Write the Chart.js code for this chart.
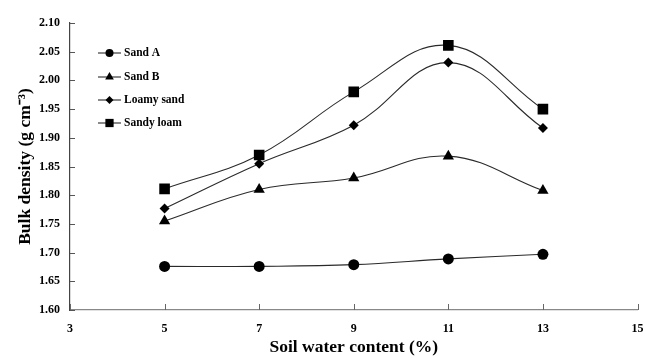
<!DOCTYPE html>
<html>
<head>
<meta charset="utf-8">
<script src="https://cdn.jsdelivr.net/npm/chart.js@4.4.1/dist/chart.umd.min.js"></script>
<style>
html,body{margin:0;padding:0;background:#fff;}
#wrap{width:645px;height:358px;position:relative;}
</style>
</head>
<body>
<div id="wrap"><canvas id="c" width="645" height="358"></canvas></div>
<script>
const waterContent = [5, 7, 9, 11, 13];
const sandA      = [1.676, 1.676, 1.679, 1.689, 1.697];
const sandB      = [1.755, 1.810, 1.830, 1.868, 1.808];
const loamySand  = [1.777, 1.855, 1.922, 2.031, 1.917];
const sandyLoam  = [1.811, 1.870, 1.980, 2.061, 1.950];
const seriesNames = ['Sand A', 'Sand B', 'Loamy sand', 'Sandy loam'];
const xTicks = [3, 5, 7, 9, 11, 13, 15];
const yTicks = [1.60, 1.65, 1.70, 1.75, 1.80, 1.85, 1.90, 1.95, 2.00, 2.05, 2.10];

const FONT = "'Liberation Serif', 'Times New Roman', serif";
const pts = arr => waterContent.map((x, i) => ({x: x, y: arr[i]}));

const styles = [
  {pointStyle: 'circle', radius: 5.5, legendR: 4},
  {pointStyle: 'triangle', radius: 6.5, legendR: 5},
  {pointStyle: 'rectRot', radius: 5, legendR: 4},
  {pointStyle: 'rect', radius: 7.5, legendR: 5.5}
];
const allData = [sandA, sandB, loamySand, sandyLoam];

const datasets = allData.map((arr, i) => ({
  label: seriesNames[i],
  data: pts(arr),
  borderColor: '#2a2a2a',
  backgroundColor: '#000',
  borderWidth: 1.1,
  pointStyle: styles[i].pointStyle,
  pointRadius: styles[i].radius,
  pointHoverRadius: styles[i].radius,
  pointBackgroundColor: '#000',
  pointBorderColor: '#000',
  pointBorderWidth: 0,
  tension: 0.4,
  fill: false
}));

function drawMarker(ctx, style, x, y, r) {
  ctx.beginPath();
  if (style === 'circle') {
    ctx.arc(x, y, r, 0, Math.PI * 2);
  } else if (style === 'triangle') {
    ctx.moveTo(x, y - r);
    ctx.lineTo(x + r * 0.866, y + r * 0.5);
    ctx.lineTo(x - r * 0.866, y + r * 0.5);
    ctx.closePath();
  } else if (style === 'rectRot') {
    ctx.moveTo(x, y - r);
    ctx.lineTo(x + r, y);
    ctx.lineTo(x, y + r);
    ctx.lineTo(x - r, y);
    ctx.closePath();
  } else {
    ctx.rect(x - r * 0.75, y - r * 0.75, r * 1.5, r * 1.5);
  }
  ctx.fill();
}

const insideLegend = {
  id: 'insideLegend',
  afterDraw(chart) {
    const ctx = chart.ctx;
    ctx.save();
    const rows = [53, 77, 100, 123];
    chart.data.datasets.forEach((ds, i) => {
      const y = rows[i];
      ctx.strokeStyle = '#2a2a2a';
      ctx.lineWidth = 1.1;
      ctx.beginPath();
      ctx.moveTo(98, y);
      ctx.lineTo(121, y);
      ctx.stroke();
      ctx.fillStyle = '#000';
      drawMarker(ctx, styles[i].pointStyle, 109.5, y, styles[i].legendR);
      ctx.font = "bold 11.5px " + FONT;
      ctx.textBaseline = 'middle';
      ctx.textAlign = 'left';
      ctx.fillText(ds.label, 124, y + 0.5);
    });
    ctx.restore();
  }
};

// tick marks drawn inward from the axis lines
const innerTicks = {
  id: 'innerTicks',
  afterDraw(chart) {
    const ctx = chart.ctx;
    const xs = chart.scales.x, ys = chart.scales.y;
    ctx.save();
    ctx.lineWidth = 1;
    ctx.strokeStyle = '#555';
    yTicks.forEach(v => {
      const py = Math.round(ys.getPixelForValue(v)) + 0.5;
      ctx.beginPath();
      ctx.moveTo(xs.left, py);
      ctx.lineTo(xs.left + 5, py);
      ctx.stroke();
    });
    ctx.strokeStyle = '#666';
    xTicks.forEach(v => {
      const px = Math.round(xs.getPixelForValue(v)) + 0.5;
      ctx.beginPath();
      ctx.moveTo(px, ys.bottom);
      ctx.lineTo(px, ys.bottom - 6);
      ctx.stroke();
    });
    ctx.restore();
  }
};

new Chart(document.getElementById('c'), {
  type: 'line',
  data: { datasets: datasets },
  plugins: [insideLegend, innerTicks],
  options: {
    responsive: false,
    animation: false,
    devicePixelRatio: 1,
    layout: { padding: { left: 15, right: 6, top: 23, bottom: 0 } },
    plugins: {
      legend: { display: false },
      tooltip: { enabled: false }
    },
    scales: {
      x: {
        type: 'linear',
        min: 3, max: 15,
        afterBuildTicks: s => { s.ticks = xTicks.map(v => ({value: v})); },
        afterFit: s => { s.height = 48; s.paddingLeft = 0; s.paddingRight = 0; },
        grid: { drawOnChartArea: false, drawTicks: false },
        border: { color: '#888', width: 1.3 },
        ticks: { color: '#000', font: { family: FONT, size: 12, weight: 'bold' }, padding: 12, maxRotation: 0 },
        title: { display: true, text: 'Soil water content (%)', color: '#000',
                 font: { family: FONT, size: 17.5, weight: 'bold' }, padding: { top: 1, bottom: 0 } }
      },
      y: {
        type: 'linear',
        min: 1.60, max: 2.10,
        afterBuildTicks: s => { s.ticks = yTicks.map(v => ({value: v})); },
        afterFit: s => { s.width = 55; s.paddingTop = 0; s.paddingBottom = 0; },
        grid: { drawOnChartArea: false, drawTicks: false },
        border: { color: '#444', width: 1.2 },
        ticks: { color: '#000', font: { family: FONT, size: 12, weight: 'bold' }, padding: 10,
                 callback: v => Number(v).toFixed(2) },
        title: { display: true, text: 'Bulk density (g cm\u207B\u00B3)', color: '#000',
                 font: { family: FONT, size: 17.5, weight: 'bold' }, padding: { top: 0, bottom: 4 } }
      }
    }
  }
});
</script>
</body>
</html>
